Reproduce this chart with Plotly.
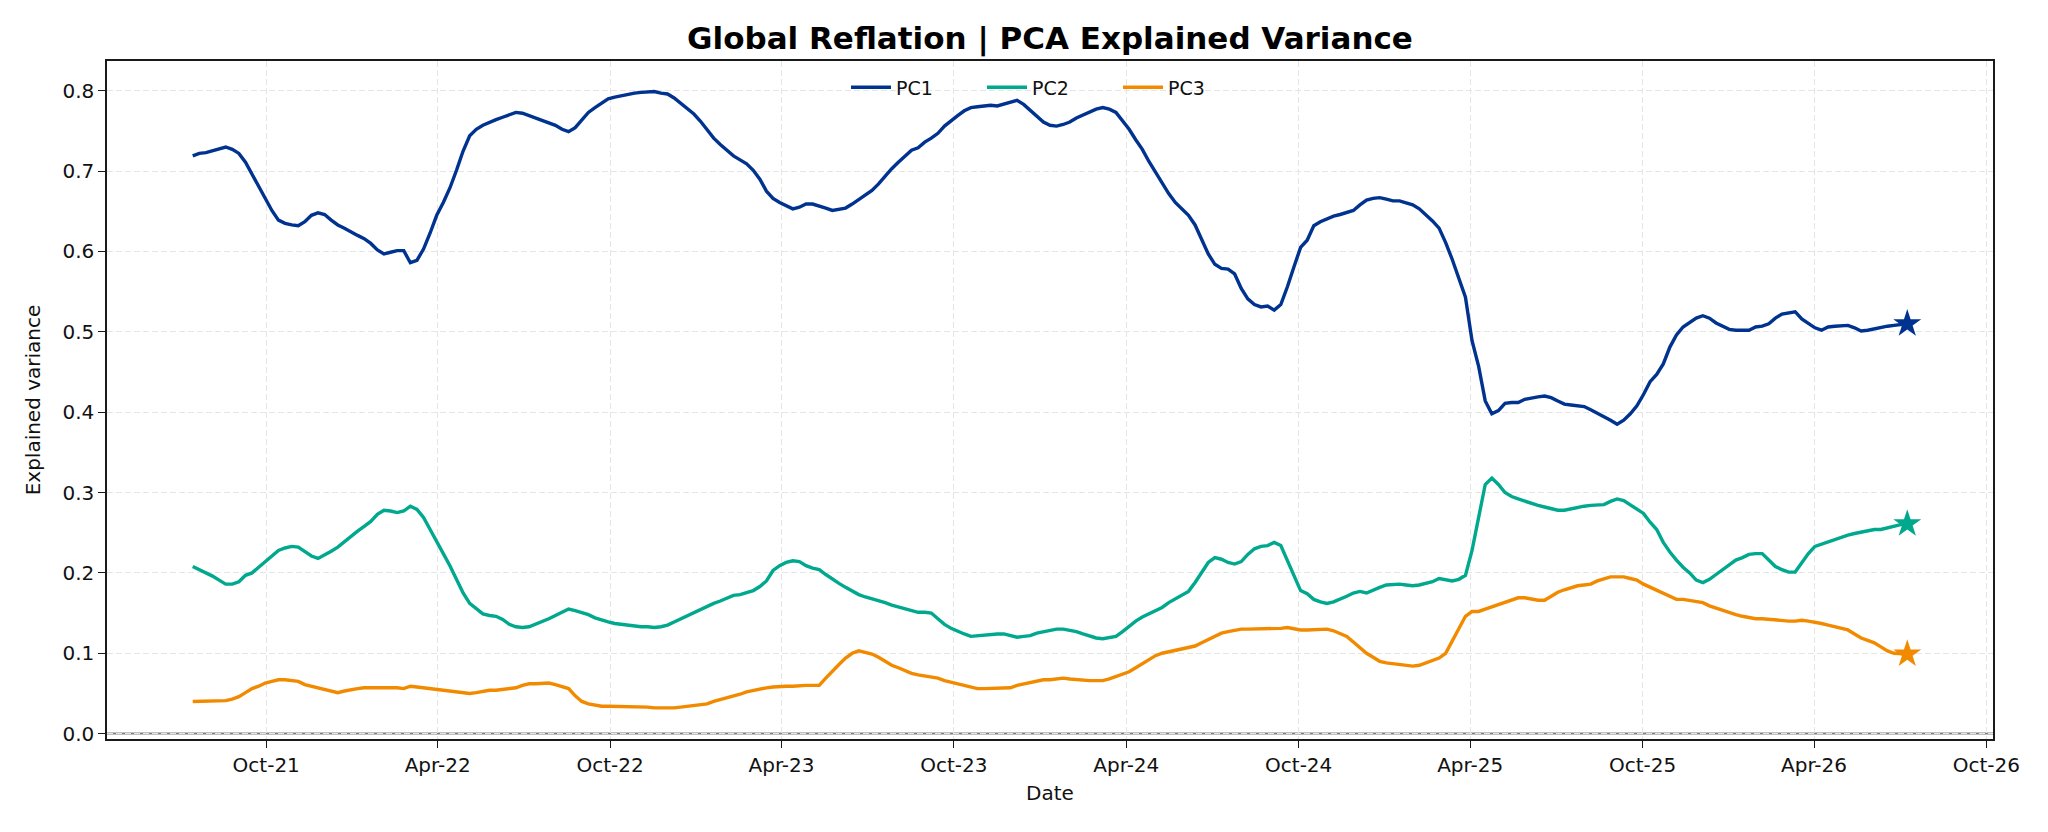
import pandas as pd
import plotly.graph_objects as go

# ---------------- data (weekly) ----------------
start_date = "2021-07-15"
n_weeks = 261
dates = pd.date_range(start_date, periods=n_weeks, freq="7D")

pc1 = [
    .719, .722, .723, .725, .727, .730, .727, .722, .711, .696,
    .680, .664, .651, .639, .635, .633, .632, .637, .645, .648,
    .646, .639, .633, .629, .624, .620, .616, .610, .602, .597,
    .599, .601, .601, .586, .589, .603, .623, .645, .661, .679,
    .701, .725, .744, .752, .757, .761, .764, .767, .770, .773,
    .772, .769, .765, .762, .759, .757, .752, .749, .754, .764,
    .773, .779, .785, .790, .792, .794, .796, .797, .798, .799,
    .799, .797, .796, .791, .784, .778, .771, .762, .751, .741,
    .733, .726, .719, .714, .709, .701, .690, .675, .666, .661,
    .657, .653, .655, .659, .659, .657, .654, .651, .652, .654,
    .659, .665, .670, .676, .684, .694, .703, .711, .719, .726,
    .729, .736, .741, .747, .756, .763, .769, .775, .779, .780,
    .781, .782, .781, .783, .786, .788, .783, .776, .768, .761,
    .757, .756, .758, .761, .766, .770, .774, .777, .779, .777,
    .773, .763, .752, .739, .727, .712, .699, .685, .672, .661,
    .653, .645, .633, .614, .597, .584, .579, .578, .572, .554,
    .541, .534, .531, .532, .527, .534, .556, .581, .605, .614,
    .632, .637, .641, .644, .646, .648, .651, .658, .664, .666,
    .667, .665, .663, .663, .661, .658, .653, .646, .638, .629,
    .611, .590, .568, .543, .489, .457, .414, .398, .402, .411,
    .412, .412, .416, .418, .419, .420, .418, .414, .410, .409,
    .408, .407, .403, .399, .395, .390, .385, .390, .398, .408,
    .422, .438, .447, .460, .481, .496, .506, .511, .517, .520,
    .517, .511, .507, .503, .502, .502, .502, .506, .507, .510,
    .517, .522, .524, .525, .516, .510, .505, .502, .506, .507,
    .507, .508, .505, .501, .502, .504, .505, .507, .508, .509,
    .510,
]

pc2 = [
    .208, .204, .201, .196, .191, .186, .186, .189, .197, .200,
    .207, .214, .221, .228, .231, .233, .232, .227, .221, .218,
    .222, .227, .232, .239, .245, .252, .258, .264, .273, .278,
    .277, .275, .277, .283, .279, .269, .254, .238, .224, .209,
    .191, .175, .162, .155, .149, .147, .146, .142, .136, .133,
    .132, .133, .136, .139, .143, .147, .151, .155, .153, .151,
    .148, .144, .141, .139, .137, .136, .134, .134, .133, .133,
    .132, .133, .135, .139, .143, .147, .150, .154, .158, .162,
    .165, .169, .172, .173, .175, .178, .183, .190, .203, .209,
    .213, .215, .214, .209, .206, .204, .198, .192, .187, .182,
    .177, .173, .170, .168, .165, .163, .160, .158, .155, .153,
    .151, .151, .150, .143, .136, .131, .127, .124, .121, .122,
    .122, .123, .124, .124, .122, .120, .121, .122, .125, .127,
    .129, .130, .130, .129, .127, .124, .121, .119, .118, .119,
    .121, .127, .134, .140, .145, .149, .153, .157, .163, .168,
    .173, .177, .188, .200, .213, .219, .217, .213, .211, .214,
    .223, .230, .233, .234, .238, .234, .216, .196, .178, .174,
    .167, .164, .162, .164, .167, .171, .175, .177, .175, .179,
    .182, .185, .186, .186, .185, .184, .185, .187, .189, .193,
    .192, .190, .192, .197, .228, .270, .310, .318, .310, .300,
    .295, .292, .289, .287, .284, .282, .280, .278, .278, .280,
    .281, .283, .284, .284, .285, .289, .292, .290, .285, .280,
    .274, .263, .254, .238, .226, .216, .207, .200, .191, .188,
    .192, .198, .204, .211, .216, .219, .223, .224, .224, .216,
    .208, .204, .201, .201, .212, .224, .233, .236, .239, .242,
    .245, .247, .249, .251, .253, .254, .254, .256, .259, .260,
    .261,
]

pc3 = [
    .040, .040, .040, .040, .040, .041, .043, .046, .051, .056,
    .059, .063, .065, .067, .067, .066, .065, .061, .059, .057,
    .055, .053, .051, .053, .055, .056, .057, .057, .058, .058,
    .058, .057, .056, .059, .058, .057, .056, .055, .054, .053,
    .052, .050, .050, .051, .053, .054, .054, .055, .055, .057,
    .060, .062, .062, .063, .063, .061, .059, .056, .047, .040,
    .037, .035, .034, .034, .034, .034, .034, .033, .033, .033,
    .032, .032, .031, .032, .033, .034, .034, .035, .037, .040,
    .042, .045, .047, .049, .052, .054, .056, .057, .058, .059,
    .059, .059, .060, .060, .060, .060, .069, .078, .086, .094,
    .100, .103, .101, .099, .095, .090, .085, .082, .078, .075,
    .073, .072, .071, .069, .066, .064, .062, .059, .058, .056,
    .056, .056, .056, .056, .057, .060, .062, .064, .065, .067,
    .067, .068, .069, .068, .067, .066, .066, .066, .066, .068,
    .071, .074, .077, .082, .087, .092, .097, .100, .102, .104,
    .105, .107, .109, .113, .117, .121, .125, .127, .129, .130,
    .130, .130, .130, .131, .131, .131, .132, .130, .129, .129,
    .129, .129, .130, .128, .124, .121, .114, .107, .100, .095,
    .090, .088, .087, .086, .085, .084, .085, .088, .092, .094,
    .100, .115, .130, .146, .152, .152, .155, .158, .161, .163,
    .166, .169, .169, .167, .166, .166, .171, .176, .179, .182,
    .184, .185, .186, .190, .193, .195, .195, .195, .193, .191,
    .186, .182, .178, .175, .171, .167, .167, .166, .165, .163,
    .159, .156, .153, .150, .148, .146, .144, .143, .143, .142,
    .141, .141, .140, .140, .141, .140, .139, .137, .135, .133,
    .131, .129, .124, .119, .116, .113, .108, .103, .100, .099,
    .099,
]

series_names = ["PC1", "PC2", "PC3"]
series_values = [pc1, pc2, pc3]
colors = ["#00338F", "#00A88E", "#F28A00"]
y_tick_vals = [0.0, 0.1, 0.2, 0.3, 0.4, 0.5, 0.6, 0.7, 0.8]

FONT = "DejaVu Sans"

fig = go.Figure()
for name, vals, col in zip(series_names, series_values, colors):
    fig.add_trace(go.Scatter(x=dates, y=vals, mode="lines", name=name,
                             line=dict(color=col, width=3.4)))
for name, vals, col in zip(series_names, series_values, colors):
    fig.add_trace(go.Scatter(x=[dates[-1]], y=[vals[-1]], mode="markers",
                             showlegend=False, hoverinfo="skip",
                             marker=dict(symbol="star", size=21, color=col,
                                         line=dict(width=0))))

span = dates[-1] - dates[0]
x_range = [dates[0] - 0.05 * span, dates[-1] + 0.05 * span]

fig.add_shape(type="line", xref="paper", x0=0, x1=1, yref="y", y0=0, y1=0,
              line=dict(color="#808080", width=2), layer="between")

axis_common = dict(showline=True, mirror=True, linecolor="#1a1a1a", linewidth=1.5,
                   ticks="outside", ticklen=7, tickwidth=1.4, tickcolor="#1a1a1a",
                   showgrid=True, gridcolor="#e5e5e5", gridwidth=1, griddash="6px,3px",
                   zeroline=False, tickfont=dict(family=FONT, size=20, color="#111"))

fig.update_layout(
    width=2048, height=832,
    margin=dict(l=107, r=55, t=61, b=93),
    paper_bgcolor="white", plot_bgcolor="white",
    font=dict(family=FONT, color="#111"),
    title=dict(text="<b>Global Reflation | PCA Explained Variance</b>",
               x=0.5, xref="paper", xanchor="center",
               y=1 - 38 / 832, yref="container", yanchor="middle",
               font=dict(family=FONT, size=31, color="#000")),
    legend=dict(orientation="h", x=0.5, xanchor="center", y=0.961, yanchor="middle",
                bgcolor="rgba(0,0,0,0)", font=dict(family=FONT, size=19, color="#111"),
                entrywidth=81, itemwidth=40),
    xaxis=dict(type="date", range=x_range, tick0="2021-10-01", dtick="M6",
               tickformat="%b-%y",
               title=dict(text="Date", font=dict(family=FONT, size=20), standoff=10),
               **axis_common),
    yaxis=dict(range=[-0.0067, 0.837], tickvals=y_tick_vals, tickformat=".1f",
               title=dict(text="Explained variance", font=dict(family=FONT, size=20),
                          standoff=16),
               **axis_common),
    showlegend=True,
)

fig.write_html("out.html")
